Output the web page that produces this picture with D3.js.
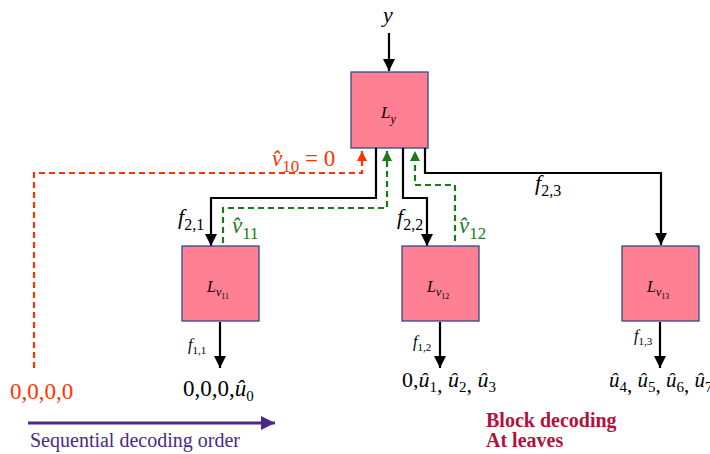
<!DOCTYPE html>
<html>
<head>
<meta charset="utf-8">
<script src="https://cdn.jsdelivr.net/npm/d3@7"></script>
<style>
  body { margin: 0; background: #fff; }
</style>
</head>
<body>
<div id="chart"></div>
<script>
// tree: one root, three leaves
const leaves = ["v11", "v12", "v13"];
const leafSub = ["11", "12", "13"];
const upperEdges = ["2,1", "2,2", "2,3"];
const lowerEdges = ["1,1", "1,2", "1,3"];
const leafOutputs = [
  [["0,0,0,", "0"]],
  [["0,", "1"], [", ", "2"], [", ", "3"]],
  [["", "4"], [", ", "5"], [", ", "6"], [", ", "7"]]
];
const feedback = [{name: "10", note: " = 0"}, {name: "11", note: ""}, {name: "12", note: ""}];
const frozenOutput = "0,0,0,0";

// pick the first serif face that is really installed
function pickFont(list) {
  const ctx = document.createElement("canvas").getContext("2d");
  const probe = "Sequential decoding order 0,0,0";
  ctx.font = "40px monospace";
  const base = ctx.measureText(probe).width;
  for (const f of list) {
    ctx.font = `40px "${f}", monospace`;
    if (Math.abs(ctx.measureText(probe).width - base) > 0.5) return `"${f}"`;
  }
  return "serif";
}
const serif = pickFont(["Liberation Serif", "Times New Roman", "DejaVu Serif", "Noto Serif", "Tinos"]);

const W = 710, H = 454;
const svg = d3.select("#chart").append("svg").attr("width", W).attr("height", H)
  .style("font-family", serif);

const x = d3.scalePoint().domain(leaves).range([220, 660]);
const rootX = 389;
const box = 77;

const red = "#ff3300", green = "#1a7a1a", pink = "#ff8093", edge = "#31498a";

const defs = svg.append("defs");
function marker(id, color, w, l) {
  defs.append("marker").attr("id", id).attr("viewBox", "0 0 10 10")
    .attr("refX", 10).attr("refY", 5).attr("markerUnits", "userSpaceOnUse")
    .attr("markerWidth", l).attr("markerHeight", w).attr("orient", "auto")
    .append("path").attr("d", "M0,0L10,5L0,10Z").attr("fill", color);
}
marker("ab", "#000", 12, 13);
marker("ar", red, 10, 10);
marker("ag", green, 10, 10);
marker("ap", "#4a2a86", 14, 14);

const line = d3.line();

// italic main + subscript
function sub(px, py, main, s, size, subSize, color) {
  const t = svg.append("text").attr("x", px).attr("y", py)
    .attr("font-size", size).attr("fill", color || "#000");
  t.append("tspan").attr("font-style", "italic").text(main);
  t.append("tspan").attr("font-size", subSize).attr("dy", size * 0.28).text(s);
  return t;
}

// input arrow
svg.append("text").attr("x", rootX - 1).attr("y", 22).attr("text-anchor", "middle")
  .attr("font-size", 22).attr("font-style", "italic").text("y");
svg.append("path").attr("d", line([[rootX, 33], [rootX, 71]]))
  .attr("stroke", "#000").attr("stroke-width", 2.2).attr("marker-end", "url(#ab)");

// root box
const rootTop = 72;
svg.append("rect").attr("x", rootX - 38).attr("y", rootTop).attr("width", box).attr("height", 76)
  .attr("fill", pink).attr("stroke", edge).attr("stroke-width", 1.3);
const rl = svg.append("text").attr("x", rootX - 8).attr("y", 118).attr("font-size", 17).attr("font-style", "italic");
rl.append("tspan").text("L");
rl.append("tspan").attr("font-size", 12).attr("dy", 5).text("y");

// black edges from root to leaves
const leafTop = 246;
const rootBot = 148;
const ed = [
  [[376, rootBot], [376, 198], [x("v11") - 9, 198], [x("v11") - 9, leafTop]],
  [[403, rootBot], [403, 198], [x("v12") - 13, 198], [x("v12") - 13, leafTop]],
  [[425, rootBot], [425, 173], [x("v13") + 1, 173], [x("v13") + 1, leafTop - 1]]
];
ed.forEach(d => svg.append("path").attr("d", line(d)).attr("fill", "none")
  .attr("stroke", "#000").attr("stroke-width", 2.2).attr("marker-end", "url(#ab)"));

// feedback dashed paths
const fb = [
  {pts: [[34, 368], [34, 173], [362, 173], [362, 151]], c: red, m: "ar"},
  {pts: [[223, 243], [223, 208], [387, 208], [387, 151]], c: green, m: "ag"},
  {pts: [[455, 241], [455, 185], [415, 185], [415, 151]], c: green, m: "ag"}
];
fb.forEach(d => svg.append("path").attr("d", line(d.pts)).attr("fill", "none")
  .attr("stroke", d.c).attr("stroke-width", 2.2).attr("stroke-dasharray", "6,4")
  .attr("marker-end", `url(#${d.m})`));

// feedback labels
const fbPos = [[272, 166, red], [232, 233, green], [459, 233, green]];
feedback.forEach((f, i) => {
  const [px, py, c] = fbPos[i];
  const t = svg.append("text").attr("x", px).attr("y", py).attr("font-size", 23).attr("fill", c);
  t.append("tspan").attr("font-style", "italic").text("v\u0302");
  t.append("tspan").attr("font-size", 17).attr("dy", 6).text(f.name);
  if (f.note) t.append("tspan").attr("dy", -6).attr("font-size", 23).text(f.note);
});

// upper edge labels
const upPos = [[178, 224], [397, 224], [535, 190]];
upperEdges.forEach((e, i) => sub(upPos[i][0], upPos[i][1], "f", e, 22, 16));

// leaves
const lowLab = [[-32, 350], [-27, 347], [-26, 341]];
leaves.forEach((v, i) => {
  const cx = x(v);
  svg.append("rect").attr("x", cx - 38).attr("y", leafTop).attr("width", box).attr("height", 75)
    .attr("fill", pink).attr("stroke", edge).attr("stroke-width", 1.3);
  const t = svg.append("text").attr("x", cx - 13).attr("y", 292).attr("font-size", 16).attr("font-style", "italic");
  t.append("tspan").text("L");
  t.append("tspan").attr("font-size", 12).attr("dy", 4).text("v");
  t.append("tspan").attr("font-size", 8).attr("font-style", "normal").attr("dy", 3).text(leafSub[i]);
  svg.append("path").attr("d", line([[cx, 322], [cx, 368]]))
    .attr("stroke", "#000").attr("stroke-width", 2.2).attr("marker-end", "url(#ab)");
  sub(cx + lowLab[i][0], lowLab[i][1], "f", lowerEdges[i], 16, 11);
});

// leaf outputs: each part is a prefix then û with subscript
const outX = [183, 402, 609];
const outY = [396, 387, 387];
const outSize = [23, 22, 21];
leafOutputs.forEach((parts, i) => {
  const t = svg.append("text").attr("x", outX[i]).attr("y", outY[i]).attr("font-size", outSize[i]);
  parts.forEach(([pre, s], j) => {
    const p = t.append("tspan").text(pre + "\u00fb").attr("font-style", "italic");
    if (pre) {
      p.text(pre);
      p.attr("font-style", "normal");
      t.append("tspan").attr("font-style", "italic").text("\u00fb").attr("dy", j ? -5 : null);
    } else if (j) p.attr("dy", -5);
    t.append("tspan").attr("font-size", 15).attr("dy", 5).text(s);
  });
});

svg.append("text").attr("x", 10).attr("y", 399).attr("font-size", 23).attr("fill", red).text(frozenOutput);

// sequential order arrow
svg.append("path").attr("d", line([[28, 423], [275, 423]]))
  .attr("stroke", "#4a2a86").attr("stroke-width", 3).attr("marker-end", "url(#ap)");
svg.append("text").attr("x", 30).attr("y", 447).attr("font-size", 20).attr("fill", "#4a2a86")
  .text("Sequential decoding order");

const blk = svg.append("text").attr("font-size", 20).attr("font-weight", "bold").attr("fill", "#b5103c");
blk.append("tspan").attr("x", 486).attr("y", 427).text("Block decoding");
blk.append("tspan").attr("x", 486).attr("y", 447).text("At leaves");
</script>
</body>
</html>
